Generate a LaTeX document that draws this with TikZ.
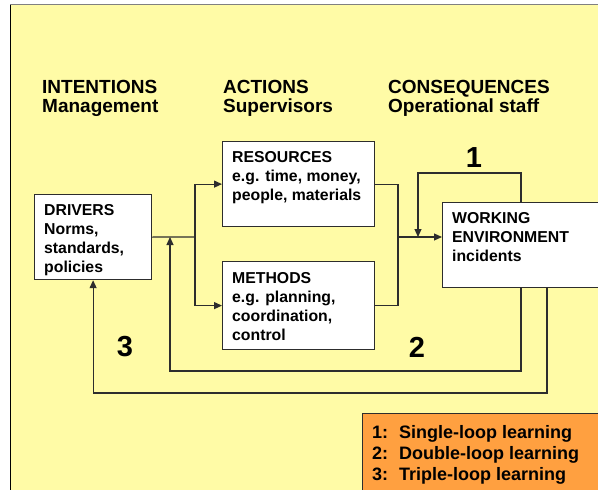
\documentclass[tikz,border=0pt]{standalone}
\usepackage{fontspec}
\setmainfont{Liberation Sans}
\usetikzlibrary{arrows.meta}
\definecolor{bgyellow}{RGB}{255,251,166}
\definecolor{legorange}{RGB}{255,160,64}
\definecolor{lineclr}{RGB}{45,45,45}
\begin{document}
\begin{tikzpicture}[x=1pt,y=-1pt,
    box/.style={draw=lineclr,fill=white,line width=1.2pt,anchor=north west,inner sep=0pt},
    legbox/.style={box,fill=legorange},
    boxtext/.style={anchor=north west,align=left,inner sep=0pt,font=\bfseries\fontsize{15.8}{19}\selectfont},
    head/.style={anchor=north west,align=left,inner sep=0pt,font=\bfseries\fontsize{19}{19}\selectfont},
    legtext/.style={anchor=north west,align=left,inner sep=0pt,font=\bfseries\fontsize{18}{21}\selectfont},
    loopnum/.style={inner sep=0pt,font=\bfseries\fontsize{29}{29}\selectfont},
    wire/.style={draw=lineclr,line width=1.2pt},
    arr/.style={wire,-{Triangle[length=8pt,width=7pt]}}]
    \clip (0,0) rectangle (598,490);

    % background sheet
    \fill[bgyellow] (10,4) rectangle (598,490);
    \draw[black,line width=1.2pt] (10.5,490) -- (10.5,4.5);
    \draw[gray,line width=1.5pt] (10,4.5) -- (598,4.5);

    % column heads
    \node[head] (intentions) at (42,80) {INTENTIONS\\Management};
    \node[head] (actions) at (223,80) {ACTIONS\\Supervisors};
    \node[head] (consequences) at (388,80) {CONSEQUENCES\\Operational staff};

    % boxes
    \node[box,minimum width=117pt,minimum height=85pt] (drivers) at (34,194) {};
    \node[boxtext] (driverstext) at (44,204) {DRIVERS\\Norms,\\standards,\\policies};
    \node[box,minimum width=152pt,minimum height=85pt] (res) at (222,141) {};
    \node[boxtext] (restext) at (232,151) {RESOURCES\\e.g. time, money,\\people, materials};
    \node[box,minimum width=152pt,minimum height=88pt] (meth) at (222,261) {};
    \node[boxtext] (methtext) at (232,272) {METHODS\\e.g. planning,\\coordination,\\control};
    \node[box,minimum width=170pt,minimum height=85pt] (work) at (442,202) {};
    \node[boxtext] (worktext) at (452,212) {WORKING\\ENVIRONMENT\\incidents};

    \coordinate (split) at (195,237);
    \coordinate (join) at (398,237);
    \coordinate (fb1) at (418,237);
    \coordinate (fb2) at (170,237);
    \coordinate (c1) at (521,173);
    \coordinate (c2) at (521,371);
    \coordinate (c3) at (547,393);

    % forward path
    \draw[wire] (drivers.east) -- (split);
    \draw[arr] (split) |- (res.west);
    \draw[arr] (split) |- (meth.west);
    \draw[wire] (res.east) -| (join);
    \draw[wire] (meth.east) -| (join);
    \draw[arr] (join) -- (join -| work.west);

    % learning loops
    \draw[arr] (work.north -| c1) -- (c1) -| (fb1);
    \draw[arr] (work.south -| c2) -- (c2) -| (fb2);
    \draw[arr] (work.south -| c3) -- (c3) -| (drivers.south);

    \node[loopnum] (one) at (474,158) {1};
    \node[loopnum] (two) at (417,347) {2};
    \node[loopnum] (three) at (125,347) {3};

    % legend
    \node[legbox,minimum width=250pt,minimum height=90pt] (legend) at (362,413) {};
    \node[legtext] (legendtext) at (372,425) {\makebox[27pt][l]{1:}Single-loop learning\\
      \makebox[27pt][l]{2:}Double-loop learning\\
      \makebox[27pt][l]{3:}Triple-loop learning};
\end{tikzpicture}
\end{document}
